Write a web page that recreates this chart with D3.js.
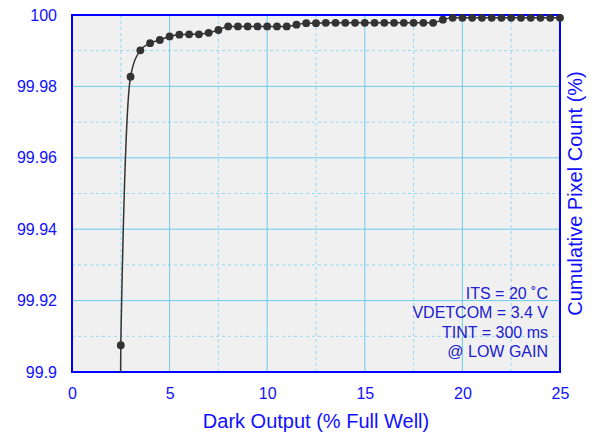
<!DOCTYPE html>
<html>
<head>
<meta charset="utf-8">
<script src="https://cdn.jsdelivr.net/npm/d3@7"></script>
<style>
  body { margin: 0; background: #fff; }
  text { font-family: "Liberation Sans", Arial, sans-serif; }
</style>
</head>
<body>
<div id="chart"></div>
<script>
// dark output (% full well) and cumulative pixel count (%)
const darkOutput = [2.0, 2.5, 3.0, 3.5, 4.0, 4.5, 5.0, 5.5, 6.0, 6.5, 7.0, 7.5,
    8.0, 8.5, 9.0, 9.5, 10.0, 10.5, 11.0, 11.5,
    12.0, 12.5, 13.0, 13.5, 14.0, 14.5, 15.0, 15.5, 16.0, 16.5, 17.0, 17.5, 18.0, 18.5,
    19.0, 19.5, 20.0, 20.5, 21.0, 21.5, 22.0, 22.5, 23.0, 23.5, 24.0, 24.5, 25.0];
const cumCount = [99.5, 99.9075, 99.9827, 99.9901, 99.9921, 99.9930, 99.9940, 99.9945, 99.9946, 99.9946, 99.9950, 99.9958,
    99.9968, 99.9968, 99.9968, 99.9968, 99.9968, 99.9968, 99.9968, 99.9973,
    99.9977, 99.9977, 99.9978, 99.9978, 99.9978, 99.9978, 99.9978, 99.9978, 99.9978, 99.9978, 99.9978, 99.9978, 99.9978, 99.9978,
    99.9987, 99.9992, 99.9992, 99.9992, 99.9992, 99.9992, 99.9992, 99.9992, 99.9992, 99.9992, 99.9992, 99.9992, 99.9992];

const xTicks = [0, 5, 10, 15, 20, 25];
const xMinor = [2.5, 7.5, 12.5, 17.5, 22.5];
const yTicks = [99.9, 99.92, 99.94, 99.96, 99.98, 100];
const yMinor = [99.91, 99.93, 99.95, 99.97, 99.99];
const notes = ["ITS = 20 \u02DAC", "VDETCOM = 3.4 V", "TINT = 300 ms", "@ LOW GAIN"];

let width = 595, height = 435;
let margin = {top: 15, right: 35, bottom: 63, left: 72};
let plotW = width - margin.left - margin.right;
let plotH = height - margin.top - margin.bottom;

let svg = d3.select("#chart")
    .append("svg")
    .attr("width", width)
    .attr("height", height)
    .append("g")
    .attr("transform", `translate(${margin.left}, ${margin.top})`);

let x = d3.scaleLinear().domain([0, 25]).range([0, plotW]);
let y = d3.scaleLinear().domain([99.9, 100]).range([plotH, 0]);

let data = darkOutput.map((d, i) => ({x: d, y: cumCount[i]}));

// plot background
svg.append("rect")
    .attr("width", plotW)
    .attr("height", plotH)
    .attr("fill", "#f0f0f0");

// minor grid (dashed)
svg.append("g").selectAll("line").data(xMinor).enter()
    .append("line")
    .attr("x1", d => x(d)).attr("x2", d => x(d))
    .attr("y1", 0).attr("y2", plotH)
    .attr("stroke", "#8fd9f3").attr("stroke-dasharray", "3,3");
svg.append("g").selectAll("line").data(yMinor).enter()
    .append("line")
    .attr("y1", d => y(d)).attr("y2", d => y(d))
    .attr("x1", 0).attr("x2", plotW)
    .attr("stroke", "#8fd9f3").attr("stroke-dasharray", "3,3");

// major grid (solid)
svg.append("g").selectAll("line").data(xTicks.slice(1, -1)).enter()
    .append("line")
    .attr("x1", d => x(d)).attr("x2", d => x(d))
    .attr("y1", 0).attr("y2", plotH)
    .attr("stroke", "#6cccef");
svg.append("g").selectAll("line").data(yTicks.slice(1, -1)).enter()
    .append("line")
    .attr("y1", d => y(d)).attr("y2", d => y(d))
    .attr("x1", 0).attr("x2", plotW)
    .attr("stroke", "#6cccef");

// frame
svg.append("rect")
    .attr("width", plotW)
    .attr("height", plotH)
    .attr("fill", "none")
    .attr("stroke", "#0000ff")
    .attr("stroke-width", 2);

// axes labels only, no tick marks
let xAxis = svg.append("g")
    .attr("transform", `translate(0, ${plotH})`)
    .call(d3.axisBottom(x).tickValues(xTicks).tickSize(0).tickPadding(16));
let yAxis = svg.append("g")
    .call(d3.axisLeft(y).tickValues(yTicks).tickSize(0).tickPadding(15)
        .tickFormat(d => d3.format("")(+d.toFixed(2))));
[xAxis, yAxis].forEach(a => {
    a.select(".domain").remove();
    a.selectAll("text")
        .attr("fill", "#1010ff")
        .style("font-size", "16px")
        .style("font-family", "Liberation Sans, Arial, sans-serif");
});

// clip the curve to the plot area
svg.append("clipPath").attr("id", "clip")
    .append("rect").attr("width", plotW).attr("height", plotH);

let line = d3.line()
    .x(d => x(d.x))
    .y(d => y(d.y))
    .curve(d3.curveMonotoneX);

svg.append("path")
    .datum(data)
    .attr("clip-path", "url(#clip)")
    .attr("fill", "none")
    .attr("stroke", "#333")
    .attr("stroke-width", 1.5)
    .attr("d", line);

svg.append("g").selectAll("circle")
    .data(data.filter(d => d.y >= 99.9))
    .enter()
    .append("circle")
    .attr("cx", d => x(d.x))
    .attr("cy", d => y(d.y))
    .attr("r", 3.9)
    .attr("fill", "#333");

// conditions note
svg.append("g").selectAll("text").data(notes).enter()
    .append("text")
    .attr("x", plotW - 12)
    .attr("y", (d, i) => 284 + i * 19.3)
    .style("text-anchor", "end")
    .style("font-size", "16px")
    .attr("fill", "#2020d0")
    .text(d => d);

// x-axis title
svg.append("text")
    .attr("transform", `translate(${plotW / 2}, ${plotH + 56})`)
    .style("text-anchor", "middle")
    .style("font-size", "20px")
    .attr("fill", "#1010ff")
    .text("Dark Output (% Full Well)");

// y-axis title on the right
svg.append("text")
    .attr("transform", `translate(${plotW + 22}, ${plotH / 2}) rotate(-90)`)
    .style("text-anchor", "middle")
    .style("font-size", "20px")
    .attr("fill", "#1010ff")
    .text("Cumulative Pixel Count (%)");
</script>
</body>
</html>
